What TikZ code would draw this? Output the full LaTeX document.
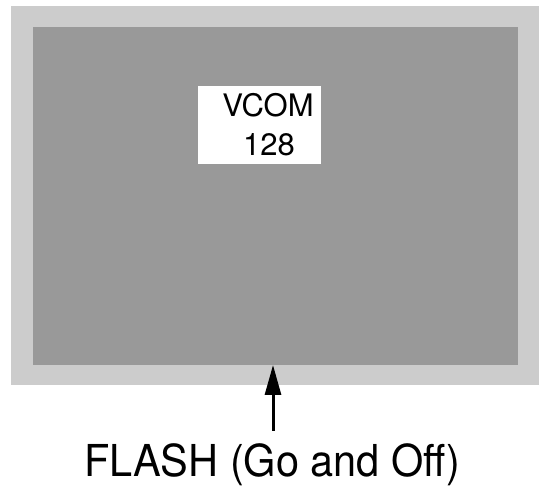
\documentclass[tikz,border=0pt]{standalone}
\usepackage{fontspec}
\setmainfont{TeX Gyre Heros}
\usetikzlibrary{arrows.meta}
\definecolor{outergray}{HTML}{CCCCCC}
\definecolor{innergray}{HTML}{999999}
\begin{document}
\begin{tikzpicture}[x=1pt,y=-1pt,
  lbl/.style={inner sep=0pt,anchor=base,font=\fontsize{31}{36}\selectfont},
  captext/.style={inner sep=0pt,anchor=base,font=\fontsize{41.5}{50}\selectfont}]
\useasboundingbox (0,0) rectangle (539,486);
\fill[outergray] (11,6) rectangle (539,385);
\fill[innergray] (33,27) rectangle (518,365);
\node[fill=white,minimum width=123pt,minimum height=78pt,inner sep=0pt] (box) at (259.5,125) {};
\node[lbl] (vcom) at (268,117) {VCOM};
\node[lbl] (num) at (269,156) {128};
\node[captext] (flash) at (272,477) {\scalebox{1}[1.06]{FLASH (Go and Off)}};
\coordinate (tail) at (273,431);
\coordinate (tip) at (273,365);
\draw[line width=3pt,-{Triangle[length=30pt,width=16pt]}] (tail) -- (tip);
\end{tikzpicture}
\end{document}
